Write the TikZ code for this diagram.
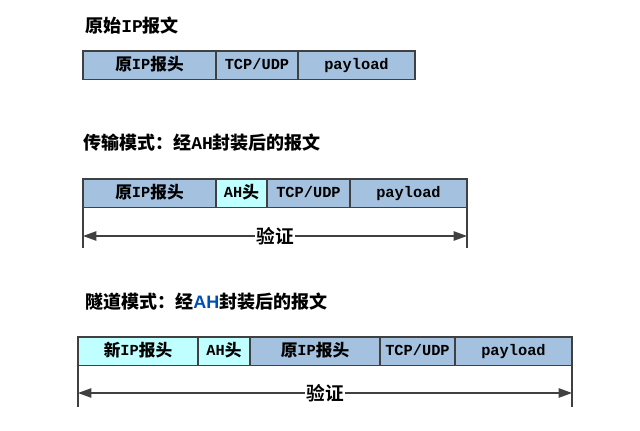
\documentclass[tikz,border=0pt]{standalone}
\usepackage{fontspec}
\setmainfont{Liberation Mono}
\newfontfamily\cjk{Noto Sans CJK SC Bold}
\newfontfamily\ahsans{Liberation Sans}
\usetikzlibrary{positioning,arrows.meta}
\definecolor{hdrblue}{RGB}{164,194,224}
\definecolor{hdrcyan}{RGB}{192,255,255}
\definecolor{edge}{RGB}{64,64,64}
\definecolor{ahblue}{RGB}{0,80,176}
\newcommand{\zh}[1]{{\cjk #1}}
\newcommand{\zb}[1]{\raisebox{-0.9pt}{\fontsize{12.5}{14}\selectfont\cjk #1}}

\begin{document}
\begin{tikzpicture}[x=0.75pt,y=-0.75pt,
  field/.style={draw=edge,line width=0.8pt,fill=hdrblue,outer sep=0pt,inner sep=0pt,
    minimum height=21.5pt,text height=8.5pt,text depth=2.5pt,
    font=\fontsize{11.5}{13}\selectfont\bfseries},
  newfield/.style={field,fill=hdrcyan},
  caption/.style={anchor=west,inner sep=0pt,font=\fontsize{13.5}{15}\selectfont\bfseries},
  span/.style={draw=edge,line width=1.1pt},
  check/.style={fill=white,inner sep=1pt,font=\fontsize{14}{16}\selectfont}]

\useasboundingbox (0,0) rectangle (640,431);

% Original packet
\node[caption] (T1) at (85,26) {\zh{原始}IP\zh{报文}};
\node[field,minimum width=99.75pt,anchor=north west] (A1) at (83,51) {\zb{原}IP\zb{报头}};
\node[field,minimum width=61.5pt,right=0pt of A1]  (A2) {TCP/UDP};
\node[field,minimum width=87.75pt,right=0pt of A2] (A3) {payload};

% Transport mode
\node[caption] (T2) at (83,143) {\zh{传输模式：经}AH\zh{封装后的报文}};
\node[field,minimum width=99.75pt,anchor=north west] (B1) at (83,179) {\zb{原}IP\zb{报头}};
\node[newfield,minimum width=38.25pt,right=0pt of B1] (B2) {AH\zb{头}};
\node[field,minimum width=62.25pt,right=0pt of B2]    (B3) {TCP/UDP};
\node[field,minimum width=87.75pt,right=0pt of B3]    (B4) {payload};

\coordinate (Bl) at (83,248);
\coordinate (Br) at (467,248);
\coordinate (Bla) at (83,236);
\coordinate (Bra) at (467,236);
\draw[span] (B1.south west) -- (Bl);
\draw[span] (B4.south east) -- (Br);
\draw[span,{Triangle[length=10pt,width=7pt]}-{Triangle[length=10pt,width=7pt]}] (Bla) -- (Bra)
  node[check,midway] (BV) {\zh{验证}};

% Tunnel mode
\node[caption] (T3) at (85,302) {\zh{隧道模式：经}{\ahsans\color{ahblue}AH}\zh{封装后的报文}};
\node[newfield,minimum width=90pt,anchor=north west] (C1) at (78,337) {\zb{新}IP\zb{报头}};
\node[newfield,minimum width=39pt,right=0pt of C1]   (C2) {AH\zb{头}};
\node[field,minimum width=97.5pt,right=0pt of C2]    (C3) {\zb{原}IP\zb{报头}};
\node[field,minimum width=56.25pt,right=0pt of C3]   (C4) {TCP/UDP};
\node[field,minimum width=87.75pt,right=0pt of C4]   (C5) {payload};

\coordinate (Cl) at (78,407);
\coordinate (Cr) at (572,407);
\coordinate (Cla) at (78,393);
\coordinate (Cra) at (572,393);
\draw[span] (C1.south west) -- (Cl);
\draw[span] (C5.south east) -- (Cr);
\draw[span,{Triangle[length=10pt,width=7pt]}-{Triangle[length=10pt,width=7pt]}] (Cla) -- (Cra)
  node[check,midway] (CV) {\zh{验证}};

\end{tikzpicture}
\end{document}
